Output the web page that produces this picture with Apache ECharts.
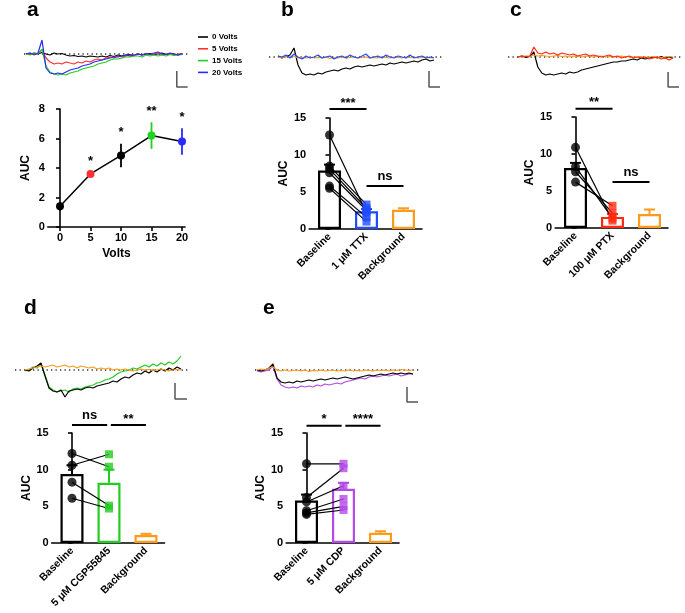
<!DOCTYPE html>
<html><head><meta charset="utf-8">
<script src="https://cdn.jsdelivr.net/npm/echarts@6/dist/echarts.min.js"></script>
<style>html,body{margin:0;padding:0;background:#fff}#c{width:685px;height:613px}</style>
</head><body><div id="c"></div>
<script>
// ================= DATA =================
// Panel a: AUC vs stimulation voltage
const voltsX = [0, 5, 10, 15, 20];
const voltsAUC = [1.4, 3.6, 4.85, 6.2, 5.8];
const voltsErr = [0.3, 0.1, 0.8, 0.9, 0.9];
const voltsStars = ['', '*', '*', '**', '*'];
const voltsTicks = [0, 5, 10, 15, 20];
const legendNames = ['0 Volts', '5 Volts', '15 Volts', '20 Volts'];

// Panel a traces (deflection, sample every 4 px)
const traceA0 = [0.5,-0.5,1,0,1.5,0,-1,1,0,0.5,-1,-2,-1.5,-2.5,-2,-3,-2,-2.5,-3,-2,-3,-1.5,-2.5,-1,-2,-1,-0.5,-1.5,0,-1,0,0.5,-0.5,0,1,-0.5,0.5,0,-1,0.5];
const traceA5 = [0,1,-1,0.5,4,-4,-8,-10,-9,-10,-8,-9,-10,-8,-9,-7,-8,-6,-5,-6,-4,-3,-4,-2,-3,-2,-1,-2,0,-1,0.5,-0.5,0,1,-0.5,0,0.5,-1,0,0.5];
const traceA15 = [0.5,-1,1,0,5,-12,-18,-20,-21,-20,-21,-19,-18,-17,-15,-14,-13,-12,-10,-9,-8,-6,-5,-5,-4,-3,-3,-2,-2,-3,-1,-2,-1,-2,-1,-2,-0.5,-1.5,-1,-0.5];
const traceA20 = [0,1,-0.5,1,14,-14,-19,-20,-19,-20,-18,-16,-15,-14,-12,-11,-10,-8,-7,-6,-5,-4,-3,-3,-2,-1,-2,-1,0,-1,0.5,-0.5,1,2,0,-0.5,1,0,-1,0];

// Panel b
const catsB = ['Baseline', '1 \u03bcM TTX', 'Background'];
const barsB = [7.9, 2.4, 2.6];
const errB = [0.8, 0.3, 0.2];
const pairBaseB = [12.7, 8.5, 8.1, 7.6, 5.8, 5.5];
const pairTreatB = [2.2, 3.3, 2.8, 2.5, 1.6, 1.0];
const sigB = [[0, 1, 16.2, '***'], [1, 2, 5.8, 'ns']];
const traceBBase = [1,-1,0.5,2,9,-8,-16,-18,-17,-18,-16,-17,-15,-14,-13,-14,-12,-11,-12,-10,-9,-10,-9,-8,-9,-8,-7,-8,-6,-7,-6,-5,-6,-5,-4,-5,-3,-2,-4,-3];
const traceBTreat = [1,0,2,-1,3,0,-2,1,-1,0,2,-1,0,1,-2,0,1,-1,2,0,-1,1,3,-1,0,1,-1,2,0,-1,1,0,-1,2,-1,0,1,-1,0,-1];
const traceBBg = [0,-1,0.5,0,1,-1,-0.5,-1,0,-1,-0.5,-1,0,-1.5,-0.5,-1,0,-1,-0.5,0,-1,-0.5,0,-1,-0.5,-1,0,-0.5,-1,0,-0.5,-1,0,-0.5,0,-1,-0.5,0,-1,-0.5];

// Panel c
const catsC = ['Baseline', '100 \u03bcM PTX', 'Background'];
const barsC = [8.1, 1.5, 1.9];
const errC = [0.7, 0.4, 0.6];
const pairBaseC = [10.9, 8.3, 7.6, 6.2];
const pairTreatC = [1.0, 1.3, 2.0, 3.0];
const sigC = [[0, 1, 16.1, '**'], [1, 2, 6.2, 'ns']];
const traceCBase = [0,1,-0.5,0.5,5,-10,-16,-18,-17,-18,-17,-16,-17,-15,-16,-15,-13,-12,-11,-10,-9,-8,-7,-6,-5,-5,-4,-4,-3,-2,-3,-1,-2,-1,0,-1,0.5,-1,0,-1];
const traceCTreat = [0,1,0.5,1,10,4,3,5,3,4,2,4,3,2,3,1,2,3,1,2,1,0,1,2,0,1,-1,0,1,-1,0,-1,0,-2,-1,0,-2,-1,-3,-1];
const traceCBg = [0.5,0,1,0.5,2,1,1.5,1,0.5,1,1.5,0.5,1,0,1,0.5,0,1,0.5,0,0.5,1,0,0.5,0,0.5,1,0,0.5,0,0,0.5,-0.5,0,0.5,0,-0.5,0,0.5,0];

// Panel d
const catsD = ['Baseline', '5 \u03bcM CGP55845', 'Background'];
const barsD = [9.4, 8.2, 1.1];
const errD = [1.2, 1.8, 0.15];
const pairBaseD = [12.2, 10.6, 8.3, 6.1];
const pairTreatD = [10.4, 12.1, 5.1, 4.7];
const sigD = [[0, 0.95, 16.1, 'ns'], [1.05, 2, 16.1, '**']];
const traceDBase = [0,-1,2,4,7,-6,-18,-21,-22,-20,-27,-21,-20,-19,-20,-18,-17,-18,-16,-15,-14,-13,-11,-12,-9,-7,-8,-5,-3,-4,-1,-3,0,-2,1,-1,2,0,3,1];
const traceDTreat = [-1,0,3,2,6,-5,-17,-20,-22,-21,-20,-22,-19,-18,-19,-17,-16,-15,-13,-12,-10,-9,-7,-4,-2,-1,0,2,1,3,5,3,6,4,7,5,8,6,9,14];
const traceDBg = [0,1,2,3,4,3,4,5,3,4,5,3,4,2,4,3,2,3,1,2,1,2,0,1,0,1,0,-1,0,1,0,0.5,-0.5,0,1,0,-1,0,0.5,0];

// Panel e
const catsE = ['Baseline', '5 \u03bcM CDP', 'Background'];
const barsE = [5.8, 7.4, 1.4];
const errE = [0.8, 0.8, 0.2];
const pairBaseE = [10.8, 6.2, 5.6, 4.4, 4.1, 3.9];
const pairTreatE = [10.8, 10.2, 7.8, 6.0, 5.0, 4.5];
const sigE = [[0, 0.95, 16.0, '*'], [1.05, 2, 16.0, '****']];
const traceEBase = [0,-1,0,2,6,-8,-12,-13,-12,-13,-11,-12,-11,-10,-11,-10,-9,-10,-9,-8,-9,-8,-7,-8,-9,-8,-7,-6,-5,-6,-5,-4,-5,-4,-3,-4,-3,-4,-3,-4];
const traceETreat = [-1,-2,-1,0,4,-9,-15,-17,-18,-17,-18,-16,-17,-16,-17,-15,-16,-14,-15,-14,-13,-14,-12,-11,-10,-9,-8,-9,-7,-6,-7,-6,-5,-6,-5,-4,-6,-5,-4,-4];
const traceEBg = [0,1,0,2,3,0,-1,0,-1,-0.5,0,-1,0,-1.5,-0.5,-1,0,-1,-0.5,0,-1,-0.5,-1,0,-1,-0.5,-1,0,-0.5,-1,0,-0.5,0,-1,0,-0.5,0.5,0,-0.5,0];

// ================= STYLE / LAYOUT =================
const FONT = '"Liberation Sans", Arial, sans-serif';
const BLACK = '#000000';
const RED_A = '#ff3030', GREEN_A = '#1ed21e', BLUE_A = '#2a2aff';
const BLUE = '#1f4cff', ORANGE = '#ff9a1a', RED = '#ff2a10', GREEN = '#22cc22', PURPLE = '#b44ae8';
const voltsColors = [BLACK, RED_A, BLACK, GREEN_A, BLUE_A];

const grids = [], xAxes = [], yAxes = [], series = [];

function addTrace(cfg) {
  const gi = grids.length;
  grids.push({left: cfg.x0 - 12, top: cfg.base - 16, width: 180, height: 52});
  xAxes.push({gridIndex: gi, type: 'value', min: -3, max: 42, show: false});
  yAxes.push({gridIndex: gi, type: 'value', min: -36, max: 16, show: false});
  series.push({type: 'line', xAxisIndex: gi, yAxisIndex: gi, silent: true, symbol: 'none', z: 1,
    data: [[cfg.dots[0], 0], [cfg.dots[1], 0]],
    lineStyle: {color: '#333', width: 1.3, type: [1.3, 3.2]}});
  cfg.traces.forEach(t => {
    series.push({type: 'line', name: t.name, xAxisIndex: gi, yAxisIndex: gi, silent: true, symbol: 'none', z: 2,
      data: t.data.map((v, i) => [i, v]), lineStyle: {color: t.color, width: 1.2}, itemStyle: {color: t.color}});
  });
  series.push({type: 'line', xAxisIndex: gi, yAxisIndex: gi, silent: true, symbol: 'none', z: 2,
    data: [[cfg.bar[0], cfg.bar[1]], [cfg.bar[0], cfg.bar[2]], [cfg.bar[3], cfg.bar[2]]],
    lineStyle: {color: '#555', width: 1.5}});
}

function errSeries(gi, items, opts) {
  return {type: 'custom', xAxisIndex: gi, yAxisIndex: gi, silent: true, clip: false, z: opts.z || 3,
    data: items,
    renderItem: (params, api) => {
      const x = api.value(0), m = api.value(1), e = api.value(2);
      const col = items[params.dataIndex][3];
      const top = api.coord([x, m + e]);
      const bot = api.coord([x, opts.both ? m - e : m]);
      const ch = [{type: 'line', shape: {x1: top[0], y1: top[1], x2: bot[0], y2: bot[1]}, style: {stroke: col, lineWidth: opts.w || 2}}];
      if (opts.cap) ch.push({type: 'line', shape: {x1: top[0] - opts.cap, y1: top[1], x2: top[0] + opts.cap, y2: top[1]}, style: {stroke: col, lineWidth: 2}});
      return {type: 'group', children: ch};
    }};
}

function sigSeries(gi, items) {
  return {type: 'custom', xAxisIndex: gi, yAxisIndex: gi, silent: true, clip: false, z: 6,
    data: items.map(d => [d[0], d[1], d[2]]),
    renderItem: (params, api) => {
      const p1 = api.coord([api.value(0), api.value(2)]);
      const p2 = api.coord([api.value(1), api.value(2)]);
      const lab = items[params.dataIndex][3];
      const star = lab.indexOf('*') >= 0;
      return {type: 'group', children: [
        {type: 'line', shape: {x1: p1[0], y1: p1[1], x2: p2[0], y2: p2[1]}, style: {stroke: BLACK, lineWidth: 2}},
        {type: 'text', x: (p1[0] + p2[0]) / 2, y: p1[1] - (star ? 6 : 10),
          style: {text: lab, fill: BLACK, font: 'bold 13px ' + FONT, align: 'center', verticalAlign: 'middle'}}
      ]};
    }};
}

const axisLine = {show: true, lineStyle: {color: BLACK, width: 1.6}};
const axisTick = {show: true, length: 4, lineStyle: {color: BLACK, width: 1.6}};
const lab = {color: BLACK, fontFamily: FONT, fontWeight: 'bold', fontSize: 11};

function addBarPanel(cfg) {
  const gi = grids.length;
  const sp = 37;
  grids.push({left: cfg.c0 - 0.55 * sp, top: cfg.top, width: 3.05 * sp, height: cfg.bottom - cfg.top});
  xAxes.push({gridIndex: gi, type: 'value', min: -0.55, max: 2.5,
    axisLine: axisLine, axisTick: {show: false}, splitLine: {show: false},
    axisLabel: Object.assign({}, lab, {fontSize: 10.5, rotate: 45, margin: 6, customValues: [0, 1, 2],
      formatter: v => cfg.cats[Math.round(v)]})});
  yAxes.push({gridIndex: gi, type: 'value', min: 0, max: 15, interval: 5,
    axisLine: axisLine, axisTick: axisTick, splitLine: {show: false},
    axisLabel: Object.assign({}, lab, {margin: 3}),
    name: 'AUC', nameLocation: 'middle', nameGap: cfg.nameGap, nameRotate: 90,
    nameTextStyle: {color: BLACK, fontFamily: FONT, fontWeight: 'bold', fontSize: 12}});
  series.push({type: 'bar', xAxisIndex: gi, yAxisIndex: gi, silent: true, barWidth: 23, z: 2,
    data: cfg.bars.map((v, i) => ({value: [i, v], itemStyle: {color: '#fff', borderColor: cfg.colors[i], borderWidth: 2.2}}))});
  series.push(errSeries(gi, cfg.bars.map((v, i) => [i, v, cfg.err[i], cfg.colors[i]]), {cap: 5.5}));
  cfg.base.forEach((b, i) => {
    series.push({type: 'line', xAxisIndex: gi, yAxisIndex: gi, silent: true, symbol: 'none', z: 4,
      data: [[0, b], [1, cfg.treat[i]]], lineStyle: {color: BLACK, width: 1.2}});
  });
  series.push({type: 'scatter', xAxisIndex: gi, yAxisIndex: gi, silent: true, z: 5, symbol: 'circle', symbolSize: 9,
    data: cfg.base.map(v => [0, v]), itemStyle: {color: BLACK}});
  series.push({type: 'scatter', xAxisIndex: gi, yAxisIndex: gi, silent: true, z: 5, symbol: 'rect', symbolSize: 8,
    data: cfg.treat.map(v => [1, v]), itemStyle: {color: cfg.colors[1]}});
  series.push(sigSeries(gi, cfg.sig));
}

// ---- Panel a traces ----
addTrace({x0: 26, base: 54, dots: [-0.5, 41], bar: [37.7, -17, -33, 40.4],
  traces: [
    {name: legendNames[0], data: traceA0, color: BLACK},
    {name: legendNames[1], data: traceA5, color: RED_A},
    {name: legendNames[2], data: traceA15, color: GREEN_A},
    {name: legendNames[3], data: traceA20, color: BLUE_A}]});

// ---- Panel a plot ----
(function () {
  const gi = grids.length;
  const px = 6.1;
  grids.push({left: 60 - 2 * px, top: 109, width: 22.5 * px, height: 118});
  xAxes.push({gridIndex: gi, type: 'value', min: -2, max: 20.5,
    axisLine: axisLine, axisTick: Object.assign({}, axisTick, {customValues: voltsTicks}), splitLine: {show: false},
    axisLabel: Object.assign({}, lab, {customValues: voltsTicks, margin: 5}),
    name: 'Volts', nameLocation: 'middle', nameGap: 21,
    nameTextStyle: {color: BLACK, fontFamily: FONT, fontWeight: 'bold', fontSize: 12}});
  yAxes.push({gridIndex: gi, type: 'value', min: 0, max: 8, interval: 2,
    axisLine: axisLine, axisTick: axisTick, splitLine: {show: false},
    axisLabel: Object.assign({}, lab, {margin: 3}),
    name: 'AUC', nameLocation: 'middle', nameGap: 16, nameRotate: 90,
    nameTextStyle: {color: BLACK, fontFamily: FONT, fontWeight: 'bold', fontSize: 12}});
  series.push(errSeries(gi, voltsX.map((x, i) => [x, voltsAUC[i], voltsErr[i], voltsColors[i]]), {both: true, w: 1.8, z: 3}));
  series.push({type: 'line', xAxisIndex: gi, yAxisIndex: gi, silent: true, z: 4, symbol: 'circle', symbolSize: 8,
    data: voltsX.map((x, i) => ({value: [x, voltsAUC[i]], itemStyle: {color: voltsColors[i]}})),
    lineStyle: {color: BLACK, width: 1.5}});
  series.push({type: 'custom', xAxisIndex: gi, yAxisIndex: gi, silent: true, clip: false, z: 5,
    data: voltsX.map((x, i) => [x, voltsAUC[i] + voltsErr[i]]),
    renderItem: (params, api) => {
      const p = api.coord([api.value(0), api.value(1)]);
      return {type: 'text', x: p[0], y: p[1] - 11,
        style: {text: voltsStars[params.dataIndex], fill: BLACK, font: 'bold 13px ' + FONT, align: 'center', verticalAlign: 'middle'}};
    }});
})();

// ---- Panel b ----
addTrace({x0: 278, base: 57, dots: [-2.25, 41], bar: [37.75, -14, -30, 40.5],
  traces: [
    {name: 'b0', data: traceBBase, color: BLACK},
    {name: 'b2', data: traceBBg, color: ORANGE},
    {name: 'b1', data: traceBTreat, color: BLUE}]});
addBarPanel({c0: 329.5, top: 118, bottom: 229, nameGap: 18, cats: catsB, bars: barsB, err: errB,
  colors: [BLACK, BLUE, ORANGE], base: pairBaseB, treat: pairTreatB, sig: sigB});

// ---- Panel c ----
addTrace({x0: 518, base: 57, dots: [-2.5, 41], bar: [37.75, -15, -30, 40.5],
  traces: [
    {name: 'c0', data: traceCBase, color: BLACK},
    {name: 'c2', data: traceCBg, color: ORANGE},
    {name: 'c1', data: traceCTreat, color: RED}]});
addBarPanel({c0: 575.5, top: 117, bottom: 228, nameGap: 18, cats: catsC, bars: barsC, err: errC,
  colors: [BLACK, RED, ORANGE], base: pairBaseC, treat: pairTreatC, sig: sigC});

// ---- Panel d ----
addTrace({x0: 25, base: 370, dots: [-2.5, 41.25], bar: [37.5, -13, -29, 40.5],
  traces: [
    {name: 'd1', data: traceDTreat, color: GREEN},
    {name: 'd0', data: traceDBase, color: BLACK},
    {name: 'd2', data: traceDBg, color: ORANGE}]});
addBarPanel({c0: 72, top: 433, bottom: 543, nameGap: 19, cats: catsD, bars: barsD, err: errD,
  colors: [BLACK, GREEN, ORANGE], base: pairBaseD, treat: pairTreatD, sig: sigD});

// ---- Panel e ----
addTrace({x0: 257, base: 370, dots: [-0.5, 40.75], bar: [37.5, -17, -32, 40.25],
  traces: [
    {name: 'e1', data: traceETreat, color: PURPLE},
    {name: 'e0', data: traceEBase, color: BLACK},
    {name: 'e2', data: traceEBg, color: ORANGE}]});
addBarPanel({c0: 306.5, top: 433, bottom: 543, nameGap: 19, cats: catsE, bars: barsE, err: errE,
  colors: [BLACK, PURPLE, ORANGE], base: pairBaseE, treat: pairTreatE, sig: sigE});

const panelLetters = [['a', 27, 10], ['b', 281, 10], ['c', 510, 10], ['d', 24, 308], ['e', 263, 308]];

const chart = echarts.init(document.getElementById('c'), null, {renderer: 'canvas'});
chart.setOption({
  animation: false,
  backgroundColor: '#ffffff',
  grid: grids, xAxis: xAxes, yAxis: yAxes, series: series,
  legend: {data: legendNames, orient: 'vertical', left: 193, top: 28, icon: 'rect', itemWidth: 10, itemHeight: 1.6,
    itemGap: 3.8, selectedMode: false,
    textStyle: {color: BLACK, fontFamily: FONT, fontSize: 8, fontWeight: 'bold', padding: [0, 0, 0, -1]}},
  graphic: panelLetters.map(p => ({type: 'text', left: p[1], top: p[2] - 10,
    style: {text: p[0], fill: BLACK, font: 'bold 21px ' + FONT}}))
});
</script></body></html>
